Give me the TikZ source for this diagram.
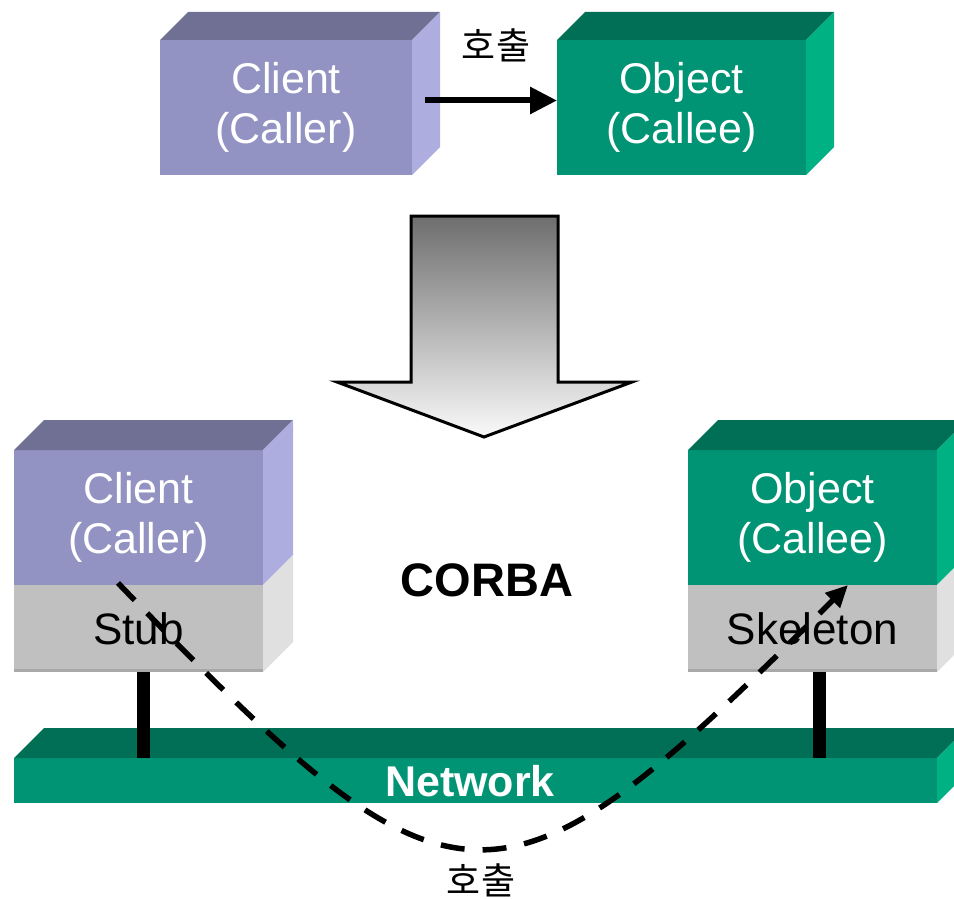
\documentclass[tikz,border=0pt]{standalone}
\usepackage{fontspec}
\setmainfont{Liberation Sans}
\newfontfamily\krfont{Noto Sans CJK KR}
\usetikzlibrary{arrows.meta,calc}

\definecolor{purpfront}{HTML}{9393C3}
\definecolor{purptop}{HTML}{707094}
\definecolor{purpside}{HTML}{ADADE0}
\definecolor{grnfront}{HTML}{009474}
\definecolor{grntop}{HTML}{006F55}
\definecolor{grnside}{HTML}{00B184}
\definecolor{stubfront}{HTML}{C0C0C0}
\definecolor{stubside}{HTML}{E0E0E0}
\definecolor{stubedge}{HTML}{A8A8A8}

% top and right faces of a block whose front face is node #1
\newcommand{\blocktop}[3]{%
  \fill[#3] (#1.north west) -- ++(#2,-#2) -- ($(#1.north east)+(#2,-#2)$) -- (#1.north east) -- cycle;}
\newcommand{\blockside}[3]{%
  \fill[#3] (#1.north east) -- ++(#2,-#2) -- ($(#1.south east)+(#2,-#2)$) -- (#1.south east) -- cycle;}

\begin{document}
\begin{tikzpicture}[x=1pt,y=-1pt,
  front/.style={rectangle, draw=none, inner sep=0pt, outer sep=0pt, align=center,
    font=\fontsize{43}{50}\selectfont},
  callerbox/.style={front, fill=purpfront, text=white},
  calleebox/.style={front, fill=grnfront, text=white},
  layerbox/.style={front, fill=stubfront, text=black, font=\fontsize{44}{50}\selectfont},
  krlabel/.style={inner sep=0pt, font=\krfont\fontsize{37}{40}\selectfont},
  callarrow/.style={line width=6pt, -{Triangle[length=27pt,width=26pt]}},
  stem/.style={line width=13pt},
  remotecall/.style={line width=5.5pt, dash pattern=on 24pt off 18pt,
    -{Triangle[length=22pt,width=20pt]}},
]
\useasboundingbox (0,0) rectangle (954,899);
\clip (0,0) rectangle (954,899);

% ---------- direct call ----------
\node[callerbox, minimum width=252pt, minimum height=135pt] (c1) at (286,107.5) {Client\\(Caller)};
\blocktop{c1}{28}{purptop}
\blockside{c1}{28}{purpside}

\node[calleebox, minimum width=249pt, minimum height=135pt] (o1) at (681.5,107.5) {Object\\(Callee)};
\blocktop{o1}{28}{grntop}
\blockside{o1}{28}{grnside}

\draw[callarrow] ([xshift=13pt,yshift=7pt]c1.east) -- ([yshift=7pt]o1.west);
\node[krlabel] (lbl1) at (496,45) {호출};

% ---------- transformation arrow ----------
\shade[top color=black!57, bottom color=black!2]
  (411,216) -- (558,216) -- (558,382) -- (632,382) -- (484,437) -- (337,382) -- (411,382) -- cycle;
\draw[line width=3pt, line join=miter]
  (411,216) -- (558,216) -- (558,382) -- (632,382) -- (484,437) -- (337,382) -- (411,382) -- cycle;

% ---------- network ----------
\node[front, fill=grnfront, minimum width=923pt, minimum height=45pt] (net) at (475.5,780.5) {};
\blocktop{net}{30}{grntop}
\blockside{net}{30}{grnside}
\node[text=white, font=\bfseries\fontsize{43}{50}\selectfont] (netlabel) at (470,781) {Network};

% ---------- CORBA client side ----------
\node[callerbox, minimum width=249pt, minimum height=135pt] (c2) at (138.5,517.5) {Client\\(Caller)};
\node[layerbox, minimum width=249pt, minimum height=87pt] (stub) at (138.5,628.5) {Stub};
\draw[stubedge, line width=3pt] ([yshift=1.5pt]stub.south west) -- ([yshift=1.5pt]stub.south east);
\blocktop{c2}{30}{purptop}
\blockside{c2}{30}{purpside}
\blockside{stub}{30}{stubside}

% ---------- CORBA object side ----------
\node[calleebox, minimum width=249pt, minimum height=135pt] (o2) at (812.5,517.5) {Object\\(Callee)};
\node[layerbox, minimum width=249pt, minimum height=87pt] (skel) at (812.5,628.5) {Skeleton};
\draw[stubedge, line width=3pt] ([yshift=1.5pt]skel.south west) -- ([yshift=1.5pt]skel.south east);
\blocktop{o2}{30}{grntop}
\blockside{o2}{30}{grnside}
\blockside{skel}{30}{stubside}

\node[font=\bfseries\fontsize{47}{50}\selectfont] (corba) at (487,580) {CORBA};

% ---------- attachments to the network ----------
\draw[stem] ([xshift=5pt]stub.south) -- ([xshift=5pt]stub.south |- net.north);
\draw[stem] ([xshift=7pt]skel.south) -- ([xshift=7pt]skel.south |- net.north);

% ---------- remote call through the network ----------
\coordinate (cs) at (118,583);
\coordinate (ce) at (848,585);
\draw[remotecall] (cs) .. controls (458,936) and (497,936) .. (ce);
\node[krlabel] (lbl2) at (481,880) {호출};
\end{tikzpicture}
\end{document}
